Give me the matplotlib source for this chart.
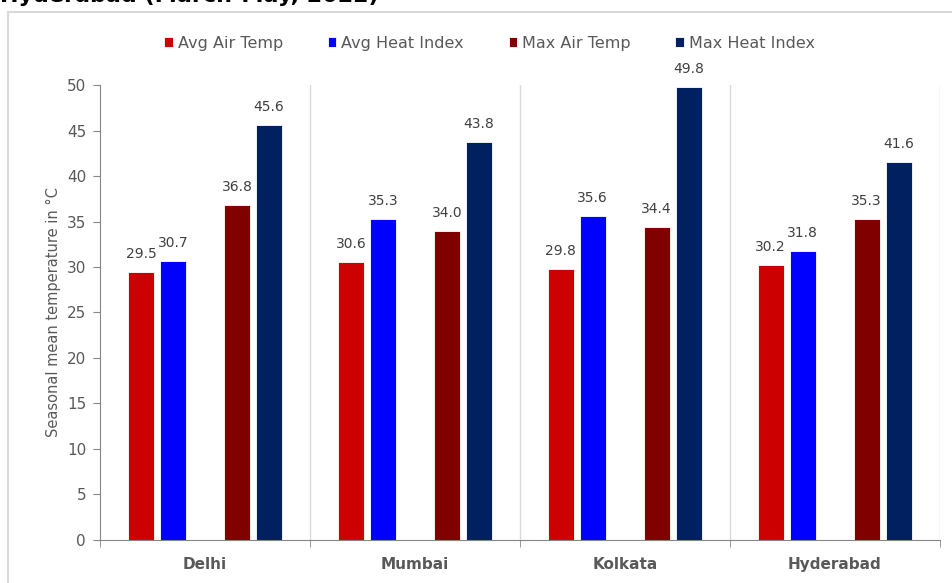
import numpy as np
import matplotlib.pyplot as plt
from matplotlib.patches import Rectangle

cities = ["Delhi", "Mumbai", "Kolkata", "Hyderabad"]
series_names = ["Avg Air Temp", "Avg Heat Index", "Max Air Temp", "Max Heat Index"]
avg_air = [29.5, 30.6, 29.8, 30.2]
avg_hi = [30.7, 35.3, 35.6, 31.8]
max_air = [36.8, 34.0, 34.4, 35.3]
max_hi = [45.6, 43.8, 49.8, 41.6]
colors = ["#CC0000", "#0000FF", "#800000", "#002060"]

GREY = "#595959"
plt.rcParams['font.family'] = ['DejaVu Sans']

fig = plt.figure(figsize=(9.52, 5.83), dpi=100)
ax = fig.add_axes([0.105, 0.074, 0.882, 0.780])

# outer chart frame (partly cut off by the figure edge)
fig.patches.append(Rectangle((0.0084, -0.05), 1.2, 0.979 + 0.05, transform=fig.transFigure,
                             fill=False, edgecolor="#D9D9D9", linewidth=1.5))
fig.text(0.0, 0.997, "Hyderabad (March-May, 2022)", fontsize=16, fontweight="bold",
         color="black", ha="left", va="baseline")

x = np.arange(len(cities))
slot = 0.1524
width = 0.124
offsets = [-2 * slot, -slot, slot, 2 * slot]  # middle slot left empty
for vals, name, col, off in zip([avg_air, avg_hi, max_air, max_hi], series_names, colors, offsets):
    bars = ax.bar(x + off, vals, width, color=col, label=name, edgecolor="white", linewidth=0.6)
    for b, v in zip(bars, vals):
        ax.text(b.get_x() + b.get_width() / 2, v + 1.2, f"{v:.1f}", ha="center", va="bottom",
                fontsize=10, color="#404040")

ax.set_xlim(-0.5, len(cities) - 0.5)
ax.set_ylim(0, 50)
ax.set_yticks(np.arange(0, 51, 5))

# separators between the city groups
for b in np.arange(0.5, len(cities), 1.0):
    ax.axvline(b, color="#D9D9D9", linewidth=1, zorder=0)

ax.set_xticks(x)
ax.set_xticklabels(cities, fontweight="bold", fontsize=11, color=GREY)
ax.tick_params(axis="x", length=0, pad=12)
ax.set_xticks(np.arange(-0.5, len(cities), 1.0), minor=True)
ax.tick_params(axis="x", which="minor", length=5, color="#868686", direction="out")
ax.tick_params(axis="y", length=5, color="#868686", labelsize=11, labelcolor=GREY, pad=5)

for s in ["top", "right"]:
    ax.spines[s].set_visible(False)
for s in ["left", "bottom"]:
    ax.spines[s].set_color("#868686")

ax.set_ylabel("Seasonal mean temperature in °C", fontsize=10.5, color=GREY, labelpad=4)

ax.legend(loc="upper center", bbox_to_anchor=(0.464, 1.14), ncol=4, frameon=False,
          fontsize=11.5, labelcolor=GREY, handlelength=0.55, handleheight=0.55,
          handletextpad=0.3, columnspacing=2.8)

fig.savefig("out.png", dpi=100)
